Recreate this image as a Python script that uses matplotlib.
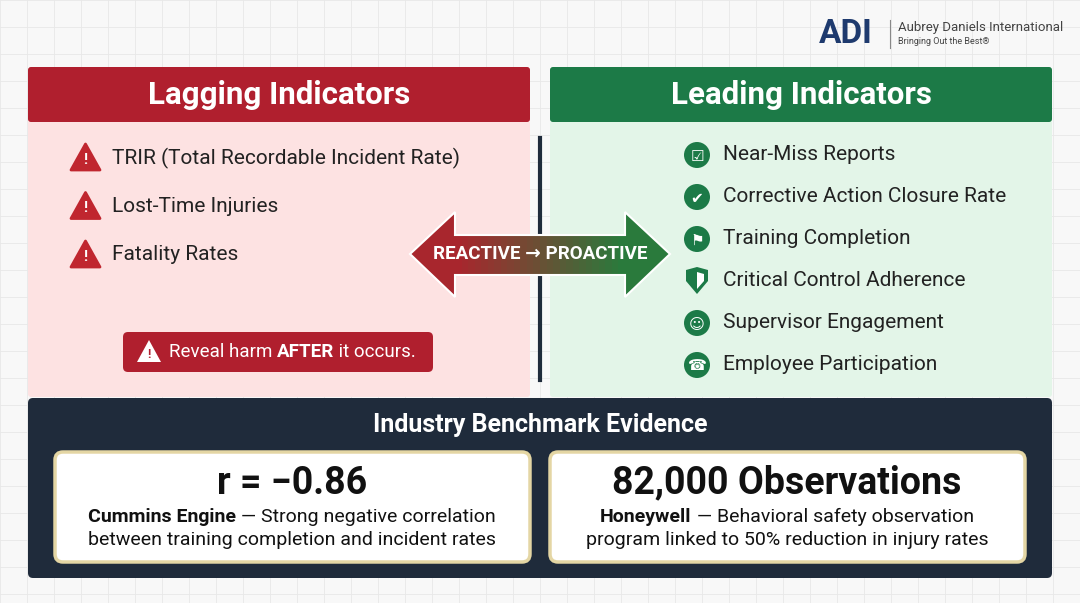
import matplotlib.pyplot as plt
from matplotlib.patches import FancyBboxPatch, Polygon, Circle

plt.rcParams['font.family'] = ['Roboto', 'DejaVu Sans']

# chart content
lagging_title = "Lagging Indicators"
leading_title = "Leading Indicators"
lagging_items = ["TRIR (Total Recordable Incident Rate)", "Lost-Time Injuries", "Fatality Rates"]
leading_items = ["Near-Miss Reports", "Corrective Action Closure Rate", "Training Completion",
                 "Critical Control Adherence", "Supervisor Engagement", "Employee Participation"]
leading_icons = ["\u2611", "\u2714", "\u2691", "", "\u263A", "\u260E"]
callout_runs = [("Reveal harm ", "normal"), ("AFTER", "bold"), (" it occurs.", "normal")]
bench_title = "Industry Benchmark Evidence"
bench_stats = ["r = \u22120.86", "82,000 Observations"]
bench_company = ["Cummins Engine", "Honeywell"]
bench_line1 = [" \u2014 Strong negative correlation", " \u2014 Behavioral safety observation"]
bench_line2 = ["between training completion and incident rates",
               "program linked to 50% reduction in injury rates"]

RED = "#b01f2e"
GREEN = "#1c7a47"
NAVY = "#1f2b3b"
W, H = 1080, 603

fig = plt.figure(figsize=(10.8, 6.03), dpi=100)
ax = fig.add_axes([0, 0, 1, 1])
ax.set_xlim(0, W)
ax.set_ylim(H, 0)
ax.axis("off")
fig.patch.set_facecolor("#f8f8f8")
renderer = fig.canvas.get_renderer()


def text_width(s, size, weight):
    t = ax.text(0, 0, s, fontsize=size, fontweight=weight)
    bb = t.get_window_extent(renderer)
    t.remove()
    return bb.width  # pixels == data units here


def runs(x, y, parts, size, color, center=False, z=5):
    widths = [text_width(s.replace(" ", "\u00a0"), size, w) for s, w in parts]
    if center:
        x = x - sum(widths) / 2
    for (s, w), wd in zip(parts, widths):
        ax.text(x, y, s.replace(" ", "\u00a0"), fontsize=size, fontweight=w, color=color, va="center", zorder=z)
        x += wd


# background grid
for gx in range(0, W, 27):
    ax.axvline(gx, color="#e8e8e8", lw=0.6, zorder=0)
for gy in range(0, H, 27):
    ax.axhline(gy, color="#e8e8e8", lw=0.6, zorder=0)

# logo
ax.text(819, 34, "ADI", fontsize=24, fontweight="bold", color="#1e3a6e", va="center", ha="left")
ax.plot([890, 890], [20, 48], color="#888888", lw=0.8)
ax.text(898, 27, "Aubrey Daniels International", fontsize=9.5, color="#444444", va="center")
ax.text(898, 42, "Bringing Out the Best\u00ae", fontsize=6.5, color="#444444", va="center")


def box(x, y, w, h, fc, ec="none", lw=0, r=3, z=1):
    ax.add_patch(FancyBboxPatch((x, y), w, h, boxstyle=f"round,pad=0,rounding_size={r}",
                                fc=fc, ec=ec, lw=lw, zorder=z))


# panels
box(28, 67, 502, 330, "#fde2e2")
box(550, 67, 502, 330, "#e3f5e8")
box(28, 67, 502, 55, RED)
box(550, 67, 502, 55, GREEN)
ax.text(279, 95, lagging_title, fontsize=22.5, fontweight="bold", color="white", ha="center", va="center", zorder=3)
ax.text(801, 95, leading_title, fontsize=22.5, fontweight="bold", color="white", ha="center", va="center", zorder=3)
ax.plot([540, 540], [138, 380], color=NAVY, lw=3, zorder=2)

# lagging items
for i, item in enumerate(lagging_items):
    y = 158 + i * 48.5
    ax.add_patch(Polygon([(71, y + 12), (100, y + 12), (85.5, y - 14)], closed=True,
                         fc="#c0262f", ec="#c0262f", lw=2, joinstyle="round", zorder=3))
    ax.text(85.5, y + 2, "!", fontsize=11, fontweight="bold", color="white", ha="center", va="center", zorder=4)
    ax.text(112, y, item, fontsize=15, color="#222222", va="center", zorder=3)

# callout
box(123, 332, 310, 40, RED, r=5, z=3)
ax.add_patch(Polygon([(137, 362), (161, 362), (149, 340)], closed=True, fc="white", zorder=4))
ax.text(149, 355, "!", fontsize=9, fontweight="bold", color=RED, ha="center", va="center", zorder=5)
runs(169, 352, callout_runs, 13.5, "white")

# leading items
for i, item in enumerate(leading_items):
    y = 155 + i * 42
    if leading_icons[i]:
        ax.add_patch(Circle((697, y), 13, fc=GREEN, zorder=3))
        ax.text(697, y + 1, leading_icons[i], fontsize=11, color="white", ha="center", va="center",
                family=['DejaVu Sans'], zorder=4)
    else:
        ax.add_patch(Polygon([(686, y - 11), (697, y - 14), (708, y - 11), (708, y), (697, y + 13), (686, y)],
                             closed=True, fc=GREEN, zorder=3))
        ax.add_patch(Polygon([(697, y - 9), (704, y - 7), (704, y), (697, y + 8)], closed=True, fc="white", zorder=4))
    ax.text(723, y, item, fontsize=15, color="#222222", va="center", zorder=3)

# double arrow, red fading into green
n_steps = 26
for k in range(n_steps):
    xa = 455 + k * 170 / n_steps
    xb = xa + 170 / n_steps + 0.6
    f = k / (n_steps - 1)
    c = ((0xa8 * (1 - f) + 0x2a * f) / 255, (0x26 * (1 - f) + 0x7a * f) / 255, (0x2d * (1 - f) + 0x3c * f) / 255)
    ax.add_patch(Polygon([(xa, 235), (xb, 235), (xb, 275), (xa, 275)], closed=True, fc=c, ec="none", zorder=5))
ax.add_patch(Polygon([(410, 254), (456, 212), (456, 297)], closed=True, fc="#a8262d", ec="none", zorder=5))
ax.add_patch(Polygon([(670, 254), (624, 212), (624, 297)], closed=True, fc="#2a7a3c", ec="none", zorder=5))
ax.add_patch(Polygon([(410, 254), (455, 212), (455, 235), (625, 235), (625, 212), (670, 254),
                      (625, 297), (625, 275), (455, 275), (455, 297)],
                     closed=True, fc="none", ec="white", lw=1.5, zorder=6))
ax.text(540, 254, "REACTIVE \u2192 PROACTIVE", fontsize=13.5, fontweight="bold", color="white",
        ha="center", va="center", zorder=7)

# benchmark panel
box(28, 398, 1024, 180, NAVY, r=5)
ax.text(540, 425, bench_title, fontsize=18, fontweight="bold", color="white", ha="center", va="center", zorder=3)
for i in range(2):
    x0 = 55 + i * 495
    box(x0, 452, 475, 110, "white", ec="#e4d6a4", lw=2.5, r=8, z=3)
    cx = x0 + 237
    ax.text(cx, 483, bench_stats[i], fontsize=27, fontweight="bold", color="#111111", ha="center", va="center", zorder=4)
    runs(cx, 517, [(bench_company[i], "bold"), (bench_line1[i], "normal")], 14, "#111111", center=True)
    ax.text(cx, 540, bench_line2[i], fontsize=14, color="#111111", ha="center", va="center", zorder=4)

fig.savefig("out.png", dpi=100, facecolor=fig.get_facecolor())
